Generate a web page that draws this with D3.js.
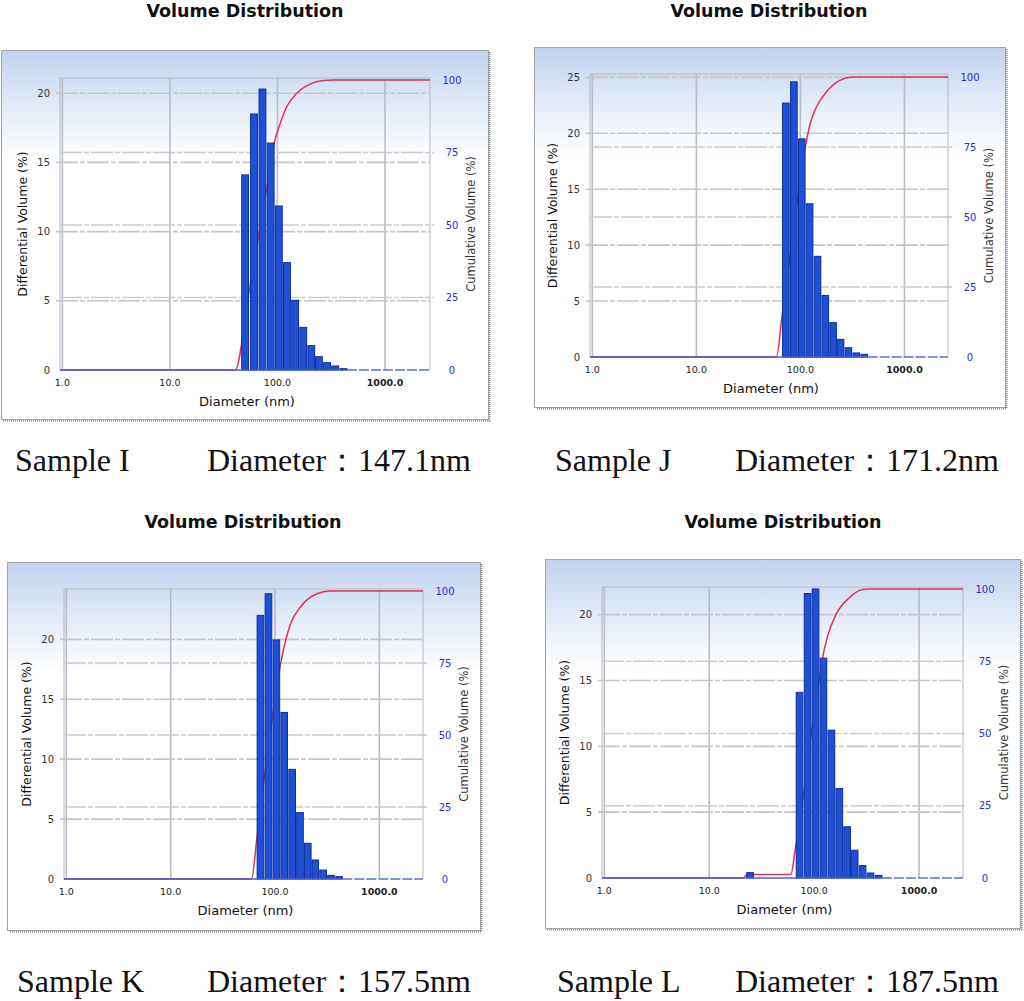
<!DOCTYPE html>
<html><head><meta charset="utf-8">
<script src="https://cdn.jsdelivr.net/npm/d3@7/dist/d3.min.js"></script>
<style>body{margin:0;background:#fff}svg{display:block}</style>
</head><body>
<svg id="chart" width="1024" height="1001"></svg>
<script>
// ---------- data ----------
const chartTitle = "Volume Distribution";
const xTickValues = [1, 10, 100, 1000];
const rightTickValues = [0, 25, 50, 75, 100];
const diameters = [24.5, 50, 60.5, 72.5, 86.5, 103, 122.5, 146, 173.5, 206, 243, 289, 344, 411];

const volI = [0, 14.1, 18.5, 20.3, 16.4, 11.85, 7.76, 5.04, 3.08, 1.76, 0.96, 0.53, 0.29, 0.1];
const volJ = [0, 0, 0, 22.7, 24.6, 19.5, 13.7, 9.0, 5.5, 3.07, 1.58, 0.83, 0.36, 0.24];
const volK = [0, 0, 0, 22.0, 23.8, 19.95, 13.9, 9.15, 5.54, 2.98, 1.59, 0.75, 0.3, 0.2];
const volL = [0.41, 0, 0, 14.1, 21.6, 21.95, 16.7, 11.23, 6.79, 3.89, 2.11, 0.94, 0.38, 0.2];

const cumDiamI = [0.95, 40.5, 53.5, 65.8, 79, 93.2, 106, 122, 151, 201, 267, 330, 2620];
const cumPctI  = [0, 0, 25.3, 44.8, 62, 78.2, 85, 90.8, 95.4, 98.6, 99.8, 100, 100];
const cumDiamJ = [0.95, 58.7, 66.5, 80, 95, 112.5, 123, 142.6, 178, 239, 321, 2620];
const cumPctJ  = [0, 0, 14.5, 37, 58, 75.7, 82.8, 89.3, 94.7, 98.8, 100, 100];
const cumDiamK = [0.95, 59.6, 66.7, 80, 96, 113.5, 126.8, 141.7, 176.8, 237.6, 344, 2620];
const cumPctK  = [0, 0, 13.5, 37, 58, 74.9, 83, 88.8, 94.6, 98.6, 100, 100];
const cumDiamL = [0.95, 20.8, 23.2, 60, 65.9, 80, 94.3, 111.6, 120, 134, 161, 215, 288, 334, 2620];
const cumPctL  = [0, 0, 1.2, 1.2, 9.8, 30, 50.4, 68.5, 76, 83.6, 91.1, 96.9, 99.8, 100, 100];

const leftTicksI = [0, 5, 10, 15, 20];
const leftTicksJ = [0, 5, 10, 15, 20, 25];
const leftTicksK = [0, 5, 10, 15, 20];
const leftTicksL = [0, 5, 10, 15, 20];
const leftMax = {I: 21.1, J: 25.3, K: 24.2, L: 22.1};

const sampleNames = ["Sample I", "Sample J", "Sample K", "Sample L"];
const meanDiameters = ["147.1nm", "171.2nm", "157.5nm", "187.5nm"];

// ---------- layout (positions / styles) ----------
const xDomain = [0.95, 2620];
const panels = [
  {key:"I", vol:volI, cd:cumDiamI, cp:cumPctI, lt:leftTicksI,
   frame:[1,50,488,419], px:[60,430], py:[78,370], r100:80,
   title:[245,17], cap:[15,207,471]},
  {key:"J", vol:volJ, cd:cumDiamJ, cp:cumPctJ, lt:leftTicksJ,
   frame:[534,47,1005,407], px:[590,948], py:[74,357], r100:77,
   title:[769,17], cap:[555,735,471]},
  {key:"K", vol:volK, cd:cumDiamK, cp:cumPctK, lt:leftTicksK,
   frame:[7,562,480,930], px:[64,423], py:[589,879], r100:591,
   title:[243,528], cap:[17,207,992]},
  {key:"L", vol:volL, cd:cumDiamL, cp:cumPctL, lt:leftTicksL,
   frame:[545,559,1020,928], px:[602,963], py:[587,878], r100:589,
   title:[783,528], cap:[557,735,992]}
];

const svg = d3.select("#chart");
const defs = svg.append("defs");
const grad = defs.append("linearGradient").attr("id","bg").attr("x1",0).attr("y1",0).attr("x2",0).attr("y2",1);
grad.append("stop").attr("offset","0").attr("stop-color","#c2d3ef");
grad.append("stop").attr("offset","0.12").attr("stop-color","#dbe6f6");
grad.append("stop").attr("offset","0.3").attr("stop-color","#ffffff");
grad.append("stop").attr("offset","1").attr("stop-color","#ffffff");

const sans = "'DejaVu Sans', Verdana, sans-serif";
const serif = "'Liberation Serif', 'Times New Roman', serif";
const BIN_RATIO = 1.19, BAR_FRAC = 0.84;

panels.forEach((p, idx) => {
  const g = svg.append("g");
  const [fx0, fy0, fx1, fy1] = p.frame;
  // frame
  g.append("rect").attr("x", fx0 + 0.5).attr("y", fy0 + 0.5)
    .attr("width", fx1 - fx0).attr("height", fy1 - fy0)
    .attr("fill", "url(#bg)").attr("stroke", "#a0a4aa").attr("stroke-width", 1);
  g.append("path")
    .attr("d", `M${fx1+1.5},${fy0+2}V${fy1+1.5}H${fx0+2}`)
    .attr("fill","none").attr("stroke","#8a8a8a").attr("stroke-width",2)
    .attr("stroke-dasharray","1,1");

  const x = d3.scaleLog().domain(xDomain).range(p.px);
  const yL = d3.scaleLinear().domain([0, leftMax[p.key]]).range([p.py[1], p.py[0]]);
  const yR = d3.scaleLinear().domain([0, 100]).range([p.py[1], p.r100]);

  // plot border
  g.append("path").attr("d", `M${p.px[0]},${p.py[1]}V${p.py[0]}H${p.px[1]}V${p.py[1]}`)
    .attr("fill","none").attr("stroke","#b4b8c4").attr("stroke-width",1);

  // vertical grid
  g.append("g").selectAll("line").data(xTickValues).join("line")
    .attr("x1", d => x(d)).attr("x2", d => x(d))
    .attr("y1", p.py[0]).attr("y2", p.py[1])
    .attr("stroke", "#b8bcc6").attr("stroke-width", 1.6);

  // horizontal grid (left + right ticks)
  g.append("g").selectAll("line").data(p.lt.filter(d => d > 0)).join("line")
    .attr("x1", p.px[0] - 4).attr("x2", p.px[1])
    .attr("y1", d => yL(d)).attr("y2", d => yL(d))
    .attr("stroke", "#c6c6c6").attr("stroke-width", 1.6).attr("stroke-dasharray","22,2,5,2");
  g.append("g").selectAll("line").data(rightTickValues.filter(d => d > 0 && d < 100)).join("line")
    .attr("x1", p.px[0]).attr("x2", p.px[1] + 4)
    .attr("y1", d => yR(d)).attr("y2", d => yR(d))
    .attr("stroke", "#cccccc").attr("stroke-width", 1.4).attr("stroke-dasharray","22,2,5,2");

  // cumulative curve
  const cum = p.cd.map((d, i) => [d, p.cp[i]]);
  g.append("path").datum(cum)
    .attr("d", d3.line().x(d => x(d[0])).y(d => yR(d[1])).curve(d3.curveMonotoneX))
    .attr("fill","none").attr("stroke","#e0334f").attr("stroke-width",1.5);

  // bars
  const bars = diameters.map((d, i) => ({d, v: p.vol[i]})).filter(b => b.v > 0);
  const half = Math.pow(BIN_RATIO, BAR_FRAC / 2);
  g.append("g").selectAll("rect").data(bars).join("rect")
    .attr("x", b => x(b.d / half))
    .attr("width", b => x(b.d * half) - x(b.d / half))
    .attr("y", b => yL(b.v))
    .attr("height", b => yL(0) - yL(b.v))
    .attr("fill", "#1f4fd6").attr("stroke", "#0f2f96").attr("stroke-width", 1);

  // blue baseline
  const lastBar = bars[bars.length - 1];
  g.append("line").attr("x1", x(xDomain[0])).attr("x2", x(lastBar.d * half))
    .attr("y1", yL(0)).attr("y2", yL(0)).attr("stroke", "#4a5fd8").attr("stroke-width", 1.6);
  g.append("line").attr("x1", x(lastBar.d * half)).attr("x2", x(xDomain[1]))
    .attr("y1", yL(0)).attr("y2", yL(0)).attr("stroke", "#5a6ddc").attr("stroke-width", 1.4)
    .attr("stroke-dasharray","10,2");

  // left ticks
  g.append("g").selectAll("text").data(p.lt).join("text")
    .attr("x", p.px[0] - 10).attr("y", d => yL(d) + 3.5)
    .attr("text-anchor","end").attr("font-family", sans).attr("font-size", 10)
    .attr("fill","#333").text(d => d);
  // right ticks
  g.append("g").selectAll("text").data(rightTickValues).join("text")
    .attr("x", p.px[1] + 22).attr("y", d => yR(d) + 3.5)
    .attr("text-anchor","middle").attr("font-family", sans).attr("font-size", 10)
    .attr("fill","#2b2be0").text(d => d);
  // x ticks
  g.append("g").selectAll("text").data(xTickValues).join("text")
    .attr("x", d => x(d)).attr("y", p.py[1] + 16)
    .attr("text-anchor","middle").attr("font-family", sans).attr("font-size", 9.5)
    .attr("font-weight", d => d === 1000 ? "bold" : "normal")
    .attr("fill","#222").text(d => d3.format(".1f")(d));

  // axis titles
  const midY = (p.py[0] + p.py[1]) / 2;
  g.append("text").attr("transform", `translate(${p.px[0] - 33},${midY}) rotate(-90)`)
    .attr("text-anchor","middle").attr("font-family", sans).attr("font-size", 12.5)
    .attr("fill","#111").text("Differential Volume (%)");
  g.append("text").attr("transform", `translate(${p.px[1] + 45},${midY}) rotate(-90)`)
    .attr("text-anchor","middle").attr("font-family", sans).attr("font-size", 11.5)
    .attr("fill","#333").text("Cumulative Volume (%)");
  g.append("text").attr("x", (p.px[0] + p.px[1]) / 2 + 2).attr("y", p.py[1] + 36)
    .attr("text-anchor","middle").attr("font-family", sans).attr("font-size", 13)
    .attr("fill","#111").text("Diameter (nm)");

  // chart title
  svg.append("text").attr("x", p.title[0]).attr("y", p.title[1])
    .attr("text-anchor","middle").attr("font-family", sans).attr("font-weight","bold")
    .attr("font-size", 17.5).attr("fill","#111").text(chartTitle);

  // caption
  svg.append("text").attr("x", p.cap[0]).attr("y", p.cap[2])
    .attr("font-family", serif).attr("font-size", 32).attr("fill","#111")
    .text(sampleNames[idx]);
  svg.append("text").attr("x", p.cap[1]).attr("y", p.cap[2])
    .attr("font-family", serif).attr("font-size", 32).attr("fill","#111")
    .text("Diameter：" + meanDiameters[idx]);
});
</script>
</body></html>
